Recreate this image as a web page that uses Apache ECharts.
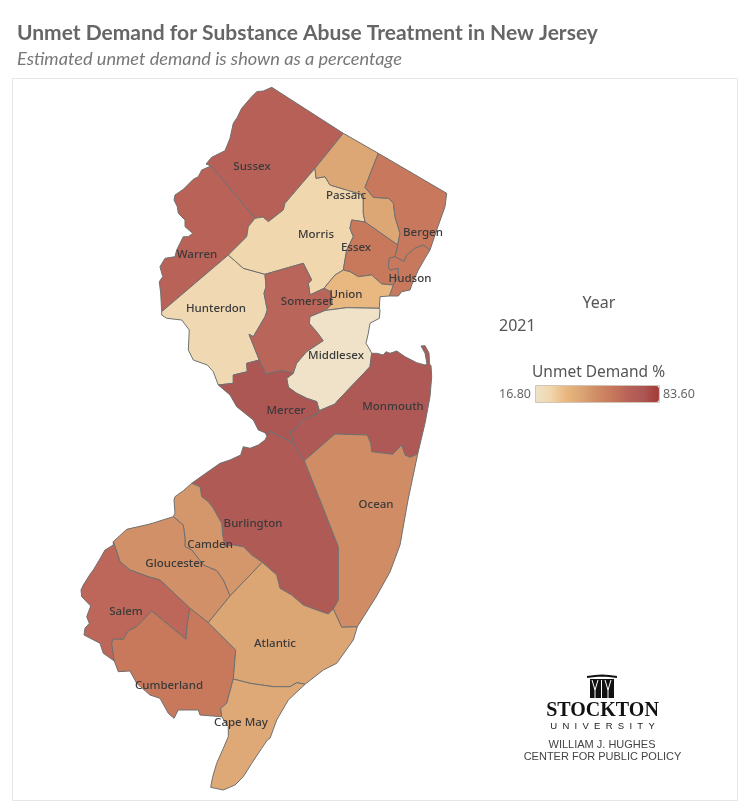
<!DOCTYPE html>
<html><head><meta charset="utf-8">
<style>html,body{margin:0;padding:0;background:#fff}#c{width:749px;height:812px}</style>
<script src="https://cdn.jsdelivr.net/npm/echarts@6/dist/echarts.min.js"></script>
</head><body><div id="c"></div>
<script>
const counties = ['Sussex','Warren','Hunterdon','Morris','Passaic','Bergen','Essex','Hudson','Union','Somerset','Middlesex','Mercer','Monmouth','Burlington','Ocean','Camden','Gloucester','Salem','Cumberland','Atlantic','Cape May'];
const unmetDemand = [68.2,66.9,23.5,24.8,41.5,58.5,58.2,58.5,33.5,65.6,17.0,75.3,73.6,72.9,50.2,46.9,48.9,64.9,58.2,41.9,40.0];
const legendMin = 16.8, legendMax = 83.6;
const rampColors = ['#efe2c9','#f0d7ac','#e9b780','#dba574','#cf8c65','#c8785c','#b86258','#ad5755','#a33a36'];
const labelPoints = [[252,166.5],[197,254.5],[216,308.5],[316,234.5],[346,195.5],[423,232.5],[356,247.5],[410,278.5],[346,294.5],[307,301.5],[336,355.5],[286,410.5],[393,406.5],[253,523.5],[376,504.5],[210,544.5],[175,563.5],[126,611.5],[169,685.5],[275,643.5],[241,722.5]];

const outlines = {
 Sussex:[[271.7,87.3],[343.3,133.3],[315,168.3],[285,203.3],[283.3,210],[268.3,221.7],[263,217],[255,218.3],[211,166],[206,164],[211.7,157.3],[225,150.7],[230,138.3],[233.3,123.3],[237.3,117.3],[241.7,108.3],[251.7,96.7],[256.7,91.7],[263.3,91]],
 Warren:[[211,166],[255,218.3],[248.3,226.7],[246.7,236.7],[228.3,255],[161.7,311.7],[160.7,293.3],[159.3,281.7],[162.7,276.7],[160,266.7],[165,258.3],[175,256.7],[176.7,250],[183.3,236.7],[188.3,236.7],[192.7,233.3],[185,226.7],[185,220],[178.3,213.3],[177.3,206.7],[174,200],[175,195],[183.3,189.3],[193.3,179.3],[198.3,176.7],[201.7,170]],
 Hunterdon:[[228.3,255],[243.3,268.3],[265,274.3],[266,286.7],[264,293.3],[267.3,310],[265,316.7],[253.3,336.7],[249,334.3],[259.3,360],[246.7,363.3],[247.3,371.7],[233.3,375],[233.3,383.3],[218.3,385],[213.3,371.7],[207.3,365],[193.3,360],[188.3,350],[189.3,330],[181.7,320],[166.7,318.3],[161.7,315],[161.7,311.7]],
 Morris:[[315,168.3],[316,178.3],[325,176.7],[330,185],[346.7,190],[363.3,195],[363.3,213.3],[365,222],[351.7,220],[350,228.3],[353.3,236.7],[346.7,250],[343.3,270],[335,275],[324,288.3],[310,295],[308.3,283.3],[311.7,280],[303.3,263.3],[265,274.3],[243.3,268.3],[228.3,255],[246.7,236.7],[248.3,226.7],[255,218.3],[263,217],[268.3,221.7],[283.3,210],[285,203.3]],
 Passaic:[[343.3,133.3],[378.3,153.3],[365,187.3],[373.3,197.3],[388.3,198.3],[393.3,202.7],[395,216.7],[400,233.3],[397.7,245],[365,222],[363.3,213.3],[363.3,195],[346.7,190],[330,185],[325,176.7],[316,178.3],[315,168.3]],
 Bergen:[[378.3,153.3],[446.7,193.3],[445,206.7],[436.7,230],[430,250],[423.3,245],[415,248.3],[406.7,255],[404,261.7],[395,256.7],[397.7,245],[400,233.3],[395,216.7],[393.3,202.7],[388.3,198.3],[373.3,197.3],[365,187.3]],
 Essex:[[365,222],[397.7,245],[395,256.7],[389.3,258.3],[388.3,266.7],[390,270],[398.3,268.3],[398.3,276.7],[393.3,285],[381.7,284],[371.7,275],[358.3,276.7],[350,271.7],[343.3,270],[346.7,250],[353.3,236.7],[350,228.3],[351.7,220]],
 Hudson:[[430,250],[425,258.3],[418.3,270],[411.7,285],[410,290],[401.7,291.7],[398.3,296],[389.3,296],[393.3,285],[398.3,276.7],[398.3,268.3],[390,270],[388.3,266.7],[389.3,258.3],[395,256.7],[404,261.7],[406.7,255],[415,248.3],[423.3,245]],
 Union:[[343.3,270],[350,271.7],[358.3,276.7],[371.7,275],[381.7,284],[393.3,285],[389.3,296],[380,296.7],[379.3,308.3],[346.7,307.7],[325,310.5],[332,304],[331,292],[324,288.3],[335,275]],
 Somerset:[[265,274.3],[303.3,263.3],[311.7,280],[308.3,283.3],[310,295],[324,288.3],[331,292],[332,304],[325,310.5],[310,316.7],[309.3,323.3],[316.7,331.7],[323.3,340.7],[306.7,351.7],[296.7,363.3],[293.3,373.3],[288.3,371.7],[280,370.7],[265.7,374.3],[259.3,360],[249,334.3],[253.3,336.7],[265,316.7],[267.3,310],[264,293.3],[266,286.7]],
 Middlesex:[[325,310.5],[346.7,307.7],[379.3,308.3],[380,310],[379.3,318.3],[370,323.3],[368.3,333.3],[366,343.3],[370,350],[371.7,353.3],[370,366.7],[338.3,400],[335,404],[319.3,410.7],[316.7,401.7],[306.7,398.3],[296.7,393.3],[288.3,387.3],[286.7,378.3],[293.3,373.3],[296.7,363.3],[306.7,351.7],[323.3,340.7],[316.7,331.7],[309.3,323.3],[310,316.7]],
 Mercer:[[218.3,385],[233.3,383.3],[233.3,375],[247.3,371.7],[246.7,363.3],[259.3,360],[265.7,374.3],[280,370.7],[288.3,371.7],[293.3,373.3],[286.7,378.3],[288.3,387.3],[296.7,393.3],[306.7,398.3],[316.7,401.7],[319.3,410.7],[318.3,413.3],[303.3,420],[295,429.3],[290,431],[294,444],[286.7,440],[276.7,435],[269.3,431],[267,436],[265,432.7],[258.3,430],[253.3,420],[236.7,406.7],[230,395]],
 Monmouth:[[371.7,353.3],[376.7,353.3],[383.3,355],[386,351.7],[390,353.3],[396.7,351],[405,356.7],[416.7,362.7],[425,365],[427,364],[425,353],[421,346],[425,345.7],[429,353],[429.5,364],[431,365.7],[431.7,376.7],[430,396.7],[425,423.3],[417.7,454],[410,457.3],[405,455],[401.7,445],[392.7,454.3],[371.7,451.7],[370.7,443.3],[367.3,435],[335,434],[304.3,460.7],[294,444],[290,431],[295,429.3],[303.3,420],[318.3,413.3],[319.3,410.7],[335,404],[338.3,400],[370,366.7]],
 Burlington:[[267,436],[269.3,431],[276.7,435],[286.7,440],[294,444],[304.3,460.7],[320,500],[338.3,546.7],[338.3,600],[333.3,609],[328.3,614],[316.7,610],[303.3,605],[291.7,595],[280,588.3],[276.7,575],[262.3,562.3],[251.7,555],[243.3,546.7],[233.3,545],[225,546.7],[222.7,535],[221.7,523.3],[213.3,508.3],[208.3,501.7],[201.7,496.7],[200,486.7],[191.7,483.3],[203.3,475],[220,463.3],[230,460],[240.7,455],[243.3,446.7],[250,448.3],[258.3,445],[265,440]],
 Ocean:[[304.3,460.7],[335,434],[367.3,435],[370.7,443.3],[371.7,451.7],[392.7,454.3],[401.7,445],[405,455],[410,457.3],[417.7,454],[408,500],[400,545],[390,572],[376,597],[357.3,626.7],[341.7,627.3],[333.3,609],[338.3,600],[338.3,546.7],[320,500]],
 Camden:[[191.7,483.3],[200,486.7],[201.7,496.7],[208.3,501.7],[213.3,508.3],[221.7,523.3],[222.7,535],[225,546.7],[233.3,545],[243.3,546.7],[251.7,555],[262.3,562.3],[230,596],[223.3,580],[216.7,570.7],[203.3,565],[191.7,550],[185,546.7],[185,538.3],[183.3,525],[173.3,516.7],[175,513.3],[174,500],[175,496.7],[183.3,490.7]],
 Gloucester:[[173.3,516.7],[183.3,525],[185,538.3],[185,546.7],[191.7,550],[203.3,565],[216.7,570.7],[223.3,580],[230,596],[208.3,622.7],[190,608.3],[160,580],[148.3,576.7],[130,570],[120,561.7],[113.3,541.7],[126.7,529.3],[150,524]],
 Salem:[[113.3,541.7],[120,561.7],[130,570],[148.3,576.7],[160,580],[190,608.3],[187.3,623.3],[186,639.3],[151.7,611],[136.7,626.7],[128.3,630.7],[123.3,639.3],[113.3,639.3],[111.7,643.3],[114.3,661],[103.3,653.3],[100,643.3],[84,635],[85,628.3],[89.3,623.3],[86.7,616.7],[90.7,606],[81.7,596.7],[81,590],[83.3,585],[90.7,573.3],[93.3,570],[99.3,560],[105,550],[113.3,545]],
 Cumberland:[[190,608.3],[208.3,622.7],[235.7,650],[233.3,679],[226.7,703.3],[220.7,708.3],[221.7,716.7],[200,715],[198.3,710],[178.3,710],[174,718.3],[168.3,713.3],[160,698.3],[150,695],[136.7,683.3],[130,671],[118.3,671.7],[114.3,661],[111.7,643.3],[113.3,639.3],[123.3,639.3],[128.3,630.7],[136.7,626.7],[151.7,611],[186,639.3],[187.3,623.3]],
 Atlantic:[[262.3,562.3],[276.7,575],[280,588.3],[291.7,595],[303.3,605],[316.7,610],[328.3,614],[333.3,609],[341.7,627.3],[357.3,626.7],[353.3,640],[336.7,663.3],[323.3,670],[305,684.3],[296.7,682.7],[290,686.7],[273.3,686.7],[250,683.3],[233.3,679],[235.7,650],[208.3,622.7],[230,596]],
 'Cape May':[[233.3,679],[250,683.3],[273.3,686.7],[290,686.7],[296.7,682.7],[305,684.3],[288.3,700],[276.7,720],[270,738.3],[267.3,740],[261.7,748.3],[251.7,763.3],[243.3,776.7],[235,785],[223.3,790],[210.7,787.3],[212.7,776.7],[216.7,763.3],[223.3,748.3],[228.3,736.7],[228.3,726.7],[221.7,716.7],[220.7,708.3],[226.7,703.3]]
};

const flip = p => [p[0], -p[1]];
const features = counties.map((name, i) => ({
  type:'Feature',
  properties:{name, cp:flip(labelPoints[i])},
  geometry:{type:'Polygon',coordinates:[outlines[name].concat([outlines[name][0]]).map(flip)]}
}));
echarts.registerMap('nj',{type:'FeatureCollection',features});

const all = counties.flatMap(n => outlines[n]);
const xs = all.map(p=>p[0]), ys = all.map(p=>p[1]);
const x0=Math.min(...xs), x1=Math.max(...xs), y0=Math.min(...ys), y1=Math.max(...ys);

const txt = (text,x,y,o) => ({type:'text',x,y,style:Object.assign({text,fill:'#666',font:'14px "Noto Sans"',textVerticalAlign:'middle'},o)});
const chart = echarts.init(document.getElementById('c'),null,{renderer:'canvas'});
chart.setOption({
  animation:false,
  backgroundColor:'#fff',
  visualMap:{type:'continuous',min:legendMin,max:legendMax,orient:'horizontal',left:484,top:371,itemWidth:16,itemHeight:124,
    calculable:false,realtime:false,text:['83.60','16.80'],textGap:4,seriesIndex:0,hoverLink:false,
    textStyle:{color:'#666',fontSize:12.5,fontFamily:'Noto Sans'},inRange:{color:rampColors}},
  series:[{type:'map',map:'nj',aspectScale:1,roam:false,selectedMode:false,silent:true,
    layoutCenter:[(x0+x1)/2,(y0+y1)/2],layoutSize:Math.max(x1-x0,y1-y0),
    nameProperty:'name',
    label:{show:true,color:'#3a3a3a',fontSize:11.5,fontFamily:'Noto Sans',fontWeight:500},
    itemStyle:{borderColor:'#707070',borderWidth:1},
    data:counties.map((name,i)=>({name,value:unmetDemand[i]}))}],
  graphic:{elements:[
    {type:'rect',z:-1,shape:{x:12.5,y:78.5,width:725,height:722},style:{fill:'#fff',stroke:'#e6e6e6',lineWidth:1}},
    txt('Unmet Demand for Substance Abuse Treatment in New Jersey',17,33,{font:'bold 21px Lato',fill:'#666'}),
    txt('Estimated unmet demand is shown as a percentage',17,59,{font:'italic 18.2px Lato',fill:'#777'}),
    txt('Year',599,303,{textAlign:'center',font:'16px "Noto Sans"',fill:'#555'}),
    txt('2021',499,326,{font:'16px "Noto Sans"',fill:'#555'}),
    txt('Unmet Demand %',598.5,373,{textAlign:'center',font:'15.5px "Noto Sans"',fill:'#555'}),
    {type:'rect',z:100,shape:{x:535.5,y:385.5,width:124,height:17},style:{fill:'none',stroke:'#cfc6b8',lineWidth:1}},
    {type:'polygon',shape:{points:[[590,679],[614,679],[614,698],[590,698]]},style:{fill:'#111'}},
    {type:'polyline',shape:{points:[[587,677],[595,676],[602,675.5],[609,676],[617,677]]},style:{fill:'none',stroke:'#111',lineWidth:2}},
    {type:'polyline',shape:{points:[[595,698],[595,690],[592,680]]},style:{fill:'none',stroke:'#fff',lineWidth:1}},
    {type:'polyline',shape:{points:[[595,690],[598,680]]},style:{fill:'none',stroke:'#fff',lineWidth:1}},
    {type:'polyline',shape:{points:[[608,698],[608,690],[605,680]]},style:{fill:'none',stroke:'#fff',lineWidth:1}},
    {type:'polyline',shape:{points:[[608,690],[611,680]]},style:{fill:'none',stroke:'#fff',lineWidth:1}},
    {type:'polyline',shape:{points:[[601.5,698],[601.5,680]]},style:{fill:'none',stroke:'#fff',lineWidth:1}},
    txt('STOCKTON',602.5,711,{textAlign:'center',font:'bold 20px "Liberation Serif"',fill:'#111'}),
    txt('U  N  I  V  E  R  S  I  T  Y',602.5,726,{textAlign:'center',font:'9.5px "Liberation Sans"',fill:'#222'}),
    txt('WILLIAM J. HUGHES',602,745,{textAlign:'center',font:'11px "Liberation Sans"',fill:'#444'}),
    txt('CENTER FOR PUBLIC POLICY',602.5,757,{textAlign:'center',font:'11px "Liberation Sans"',fill:'#444'})
  ]}
});
</script></body></html>
